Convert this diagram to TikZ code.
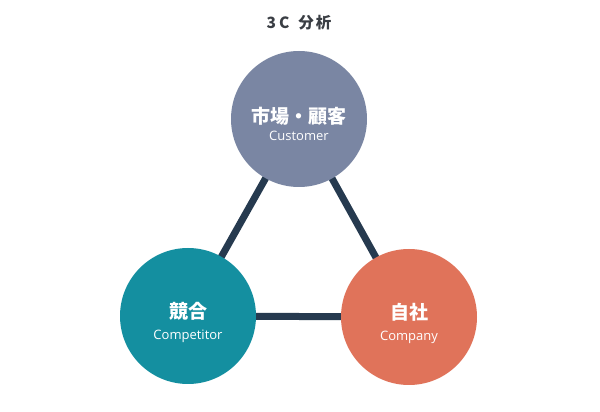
\documentclass[tikz,border=0pt]{standalone}
\usepackage{fontspec}
\setmainfont{Open Sans}
\newfontfamily\jpfont{Noto Sans CJK JP}
\usetikzlibrary{backgrounds}
\definecolor{ccSlate}{HTML}{7A86A3}
\definecolor{ccTeal}{HTML}{148FA0}
\definecolor{ccCoral}{HTML}{E0735A}
\definecolor{ccNavy}{HTML}{263A4F}
\definecolor{ccTitle}{HTML}{3A3E44}

\begin{document}
\begin{tikzpicture}[x=1pt, y=1pt,
      party/.style={circle, minimum size=136pt, inner sep=0pt, align=center,
                    text=white},
      tie/.style={draw=ccNavy, line width=7pt}]
    \useasboundingbox (0,0) rectangle (600,412);
    \node[ccTitle, font=\jpfont\bfseries\fontsize{15.5}{18}\selectfont] (title)
      at (299,389) {3\hspace{3pt}C\hspace{9pt}分\hspace{2pt}析};
    \node[party, fill=ccSlate] (cust) at (299,293)
      {\rule{0pt}{26pt}{\jpfont\bfseries\fontsize{19}{22}\selectfont 市場・顧客}\\[5pt]
       {\fontsize{13}{15}\selectfont Customer}};
    \node[party, fill=ccTeal] (comp) at (188,96)
      {\rule{0pt}{30pt}{\jpfont\bfseries\fontsize{19}{22}\selectfont 競合}\\[9pt]
       {\fontsize{13}{15}\selectfont Competitor}};
    \node[party, fill=ccCoral] (self) at (409,95)
      {\rule{0pt}{30pt}{\jpfont\bfseries\fontsize{19}{22}\selectfont 自社}\\[9pt]
       {\fontsize{13}{15}\selectfont Company}};
    \begin{scope}[on background layer]
      \fill[white] (0,0) rectangle (600,412);
      \draw[tie] (cust.center) -- (comp.center);
      \draw[tie] (cust.center) -- (self.center);
      \draw[tie] (comp.center) -- (self.center);
    \end{scope}
  \end{tikzpicture}
\end{document}
